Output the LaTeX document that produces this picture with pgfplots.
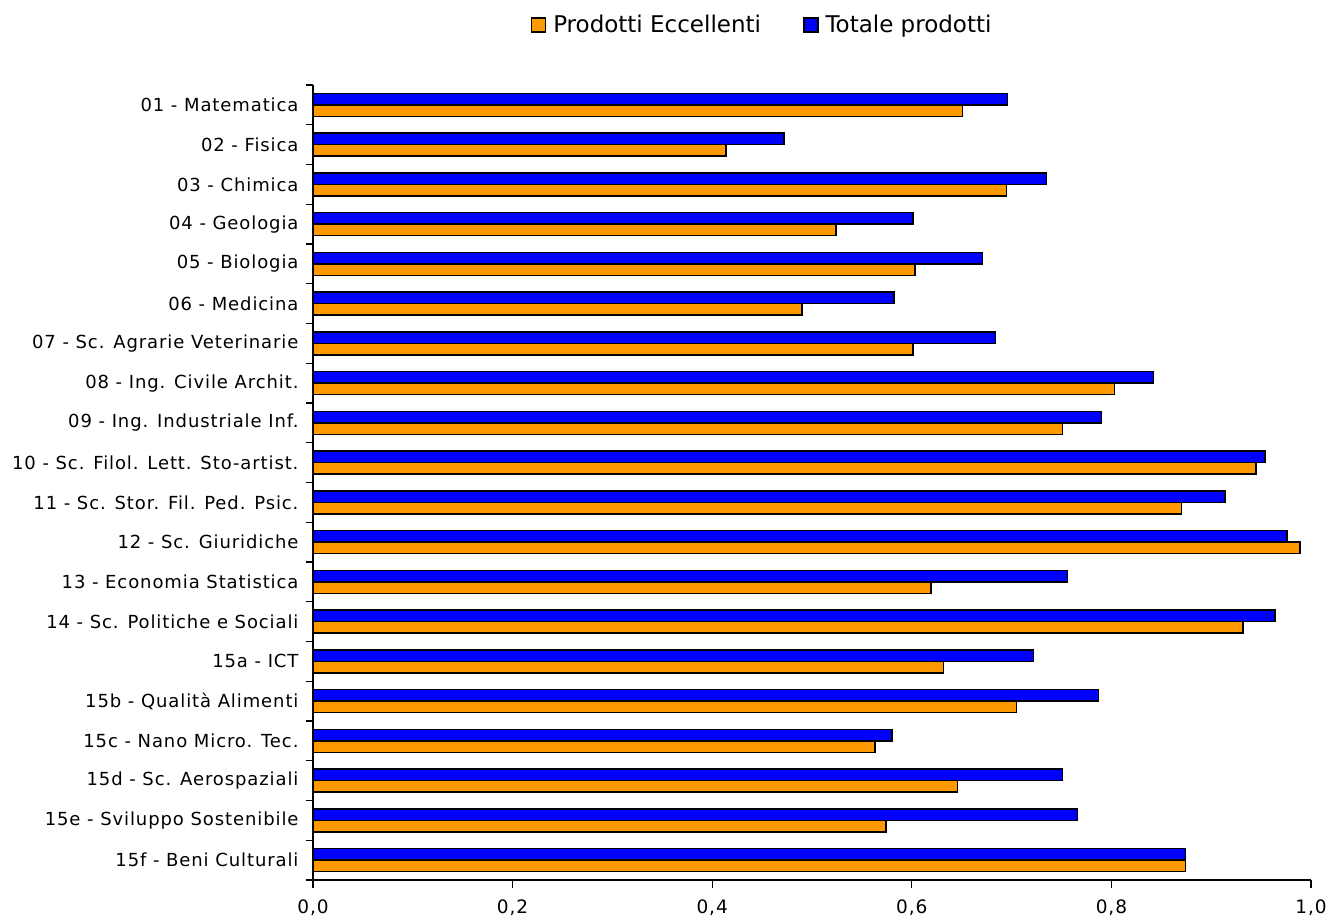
\documentclass[border=0pt]{standalone}
\usepackage{fontspec}
\setmainfont{DejaVu Sans}
\newfontfamily\labelfont{DejaVu Sans}[LetterSpace=5]
\usepackage{pgfplots}
\pgfplotsset{compat=1.18}
\definecolor{exorange}{HTML}{FF9900}
\definecolor{totblue}{HTML}{0000FF}
\begin{document}
\begin{tikzpicture}
\path[use as bounding box] (-313pt,-39pt) rectangle (1019pt,880pt);
\begin{axis}[
  at={(0pt,0pt)}, anchor=south west,
  scale only axis,
  width=998pt, height=795pt,
  xbar,
  xmin=0, xmax=1,
  ymin=-0.5, ymax=19.5,
  axis x line*=bottom,
  axis y line*=left,
  axis line style={line width=1.3pt, black},
  tick align=outside,
  major tick length=8pt,
  minor tick length=7pt,
  xtick={0,0.2,0.4,0.6,0.8,1.0},
  /pgf/number format/.cd, fixed, fixed zerofill, precision=1, use comma, assume math mode=true,
  /pgfplots/.cd,
  xticklabel style={font=\labelfont\fontsize{18.5}{21}\selectfont, yshift=-8pt},
  ytick={0,...,19},
  yticklabels={
    15f - Beni Culturali,
    15e - Sviluppo Sostenibile,
    15d - Sc. Aerospaziali,
    15c - Nano Micro. Tec.,
    15b - Qualità Alimenti,
    15a - ICT,
    14 - Sc. Politiche e Sociali,
    13 - Economia Statistica,
    12 - Sc. Giuridiche,
    11 - Sc. Stor. Fil. Ped. Psic.,
    10 - Sc. Filol. Lett. Sto-artist.,
    09 - Ing. Industriale Inf.,
    08 - Ing. Civile Archit.,
    07 - Sc. Agrarie Veterinarie,
    06 - Medicina,
    05 - Biologia,
    04 - Geologia,
    03 - Chimica,
    02 - Fisica,
    01 - Matematica},
  yticklabel style={font=\labelfont\fontsize{18}{21}\selectfont, xshift=-3pt},
  every major y tick/.append style={draw=none},
  minor ytick={-0.5,0.5,...,19.5},
  every minor y tick/.append style={line width=1.3pt, black},
  every major x tick/.append style={line width=1.3pt, black},
  bar width=11.5pt,
  legend columns=2,
  legend style={draw=none, fill=none, at={(0.450,1.0755)}, anchor=center,
    font=\fontsize{23}{26}\selectfont,
    /tikz/every odd column/.append style={column sep=5pt},
    /tikz/every even column/.append style={column sep=40pt}},
]
\addplot[xbar, bar shift=-5.75pt, fill=exorange, draw=black, line width=1.5pt,
  legend image code/.code={\draw[fill=exorange, draw=black, line width=1.5pt] (0pt,-7pt) rectangle (14pt,7pt);}]
  coordinates {
  (0.651,19) (0.414,18) (0.695,17) (0.524,16) (0.603,15)
  (0.490,14) (0.601,13) (0.803,12) (0.751,11) (0.945,10)
  (0.870,9) (0.989,8) (0.619,7) (0.932,6) (0.632,5)
  (0.705,4) (0.563,3) (0.646,2) (0.574,1) (0.874,0)};
\addlegendentry{Prodotti Eccellenti}
\addplot[xbar, bar shift=5.75pt, fill=totblue, draw=black, line width=1.5pt,
  legend image code/.code={\draw[fill=totblue, draw=black, line width=1.5pt] (0pt,-7pt) rectangle (14pt,7pt);}]
  coordinates {
  (0.696,19) (0.472,18) (0.735,17) (0.601,16) (0.671,15)
  (0.582,14) (0.684,13) (0.842,12) (0.790,11) (0.954,10)
  (0.914,9) (0.976,8) (0.756,7) (0.964,6) (0.722,5)
  (0.787,4) (0.580,3) (0.751,2) (0.766,1) (0.874,0)};
\addlegendentry{Totale prodotti}
\end{axis}
\end{tikzpicture}
\end{document}
